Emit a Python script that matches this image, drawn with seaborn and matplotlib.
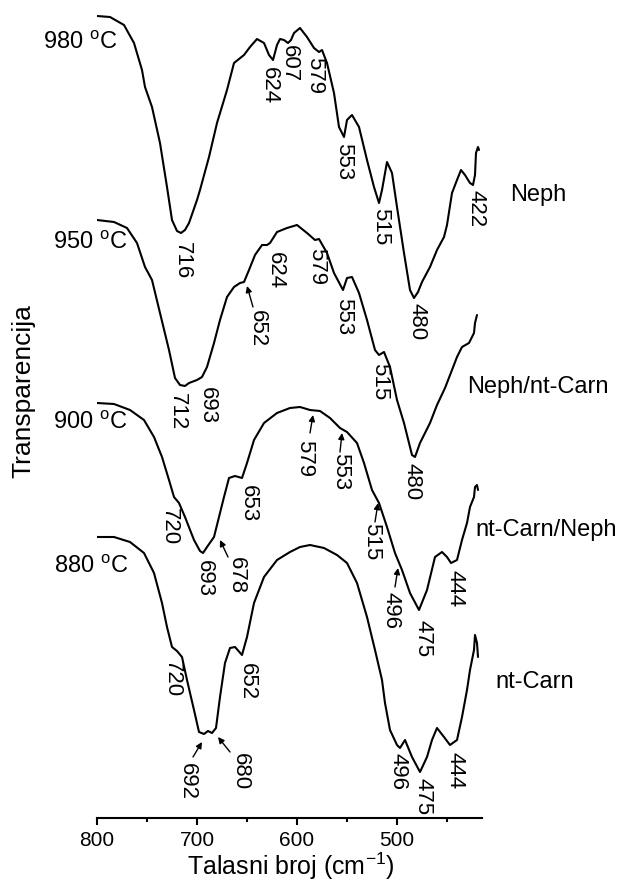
import numpy as np
import pandas as pd
import matplotlib
matplotlib.use('Agg')
import matplotlib.pyplot as plt
import seaborn as sns

# IR spectra, transparency in arbitrary units (stacked)
wn_980 = [800, 787, 773, 763, 755, 752, 745, 737, 730, 725, 720, 716, 712, 708, 700, 697,
          688, 680, 670, 663, 653, 647, 640, 633, 628, 624, 620, 617, 613, 609, 606, 603,
          597, 590, 583, 578, 575, 570, 563, 558, 553, 550, 545, 538, 530, 523, 518, 515,
          510, 505, 500, 493, 487, 483, 479, 475, 467, 460, 453, 450, 445, 440, 436, 432,
          427, 424, 422, 421, 419, 418]
tr_980 = [802, 801, 793, 775, 748, 731, 711, 675, 631, 598, 587, 585, 588, 595, 618, 628,
          661, 695, 728, 755, 763, 771, 779, 775, 763, 758, 773, 779, 778, 775, 778, 785,
          790, 781, 770, 766, 768, 755, 725, 691, 681, 698, 703, 691, 658, 631, 615, 628,
          656, 645, 611, 565, 528, 520, 526, 536, 551, 568, 581, 593, 625, 638, 648, 643,
          635, 633, 643, 665, 671, 668]

wn_950 = [800, 783, 770, 760, 752, 745, 737, 728, 722, 717, 712, 708, 700, 695, 690, 683,
          677, 670, 663, 657, 653, 648, 642, 635, 630, 627, 620, 610, 600, 590, 582, 578,
          570, 563, 554, 550, 545, 538, 530, 522, 518, 513, 507, 500, 493, 485, 482, 477,
          467, 460, 452, 445, 440, 435, 428, 423, 422, 420]
tr_950 = [598, 596, 590, 575, 551, 538, 505, 468, 440, 433, 432, 435, 438, 441, 451, 475,
          498, 521, 531, 535, 536, 548, 563, 573, 573, 575, 586, 590, 593, 585, 578, 579,
          565, 545, 528, 540, 541, 525, 498, 468, 463, 466, 451, 418, 395, 363, 361, 375,
          395, 413, 430, 448, 461, 471, 475, 485, 495, 503]

wn_900 = [800, 783, 767, 753, 743, 735, 728, 723, 718, 712, 703, 697, 694, 690, 683, 678,
          673, 668, 662, 655, 650, 643, 633, 620, 607, 597, 587, 577, 567, 557, 550, 540,
          533, 525, 518, 510, 502, 495, 487, 478, 470, 462, 455, 450, 446, 440, 435, 430,
          427, 423, 422, 420, 419]
tr_900 = [415, 414, 408, 398, 381, 361, 338, 321, 315, 301, 278, 267, 265, 271, 281, 301,
          321, 340, 342, 340, 355, 378, 395, 405, 410, 411, 408, 407, 400, 390, 386, 375,
          355, 328, 315, 291, 265, 248, 225, 208, 228, 261, 266, 261, 255, 258, 278, 295,
          311, 321, 331, 333, 328]

wn_880 = [800, 783, 767, 753, 743, 735, 730, 725, 720, 715, 710, 703, 698, 693, 689, 685,
          681, 677, 672, 667, 662, 655, 650, 643, 633, 620, 607, 597, 587, 573, 560, 550,
          540, 530, 522, 515, 512, 507, 500, 497, 492, 485, 477, 470, 465, 460, 453, 447,
          440, 435, 430, 427, 423, 422, 420, 419]
tr_880 = [281, 281, 276, 265, 245, 215, 191, 171, 167, 161, 138, 108, 86, 84, 87, 85,
          90, 121, 155, 170, 171, 163, 181, 215, 241, 258, 266, 271, 273, 270, 263, 255,
          235, 201, 168, 138, 115, 88, 73, 70, 78, 61, 46, 61, 78, 90, 81, 73,
          78, 101, 128, 148, 168, 183, 175, 161]

temps = ['980', '950', '900', '880']
phases = ['Neph', 'Neph/nt-Carn', 'nt-Carn/Neph', 'nt-Carn']

# peak labels: (wavenumber of label centre, transparency at label top, text)
peaks_980 = [(715, 576, '716'), (628, 751, '624'), (608, 773, '607'), (582, 761, '579'),
             (553, 675, '553'), (516, 610, '515'), (480, 515, '480'), (421, 628, '422')]
peaks_950 = [(720, 425, '712'), (690, 431, '693'), (640, 508, '652'), (622, 566, '624'),
             (580, 570, '579'), (553, 520, '553'), (517, 455, '515'), (485, 355, '480')]
peaks_900 = [(728, 310, '720'), (693, 258, '693'), (661, 261, '678'), (649, 333, '653'),
             (592, 378, '579'), (556, 365, '553'), (525, 295, '515'), (506, 226, '496'),
             (474, 198, '475'), (442, 248, '444')]
peaks_880 = [(725, 158, '720'), (650, 155, '652'), (710, 55, '692'), (657, 65, '680'),
             (499, 65, '496'), (474, 40, '475'), (442, 66, '444')]

# arrows: (tail wn, tail tr, head wn, head tr)
arrows = [(644, 511, 650, 532),
          (669, 261, 677, 278),
          (587, 385, 584, 403),
          (557, 366, 555, 385),
          (522, 296, 519, 315),
          (502, 231, 499, 250),
          (704, 61, 695, 76),
          (667, 66, 679, 81)]

sns.set_style('white')
plt.rcParams['font.family'] = ['Liberation Sans', 'DejaVu Sans']
plt.rcParams['mathtext.default'] = 'regular'
plt.rcParams['text.color'] = 'black'
plt.rcParams['axes.labelcolor'] = 'black'
plt.rcParams['xtick.color'] = 'black'

fig = plt.figure(figsize=(6.23, 8.82), dpi=100)
ax = fig.add_axes([97 / 623, 64 / 882, 385 / 623, 818 / 882])

for wn, tr in [(wn_980, tr_980), (wn_950, tr_950), (wn_900, tr_900), (wn_880, tr_880)]:
    df = pd.DataFrame({'wn': wn, 'tr': tr})
    sns.lineplot(data=df, x='wn', y='tr', ax=ax, color='black', lw=1.5,
                 sort=False, estimator=None, solid_joinstyle='round')

ax.set_xlim(800, 415)
ax.set_ylim(0, 818)

for peaks in [peaks_980, peaks_950, peaks_900, peaks_880]:
    for x, y, s in peaks:
        ax.text(x, y, s, rotation=270, ha='center', va='top', fontsize=16)

for x0, y0, x1, y1 in arrows:
    ax.annotate('', xy=(x1, y1), xytext=(x0, y0),
                arrowprops=dict(arrowstyle='-|>', color='black', lw=1.0,
                                mutation_scale=9, shrinkA=0, shrinkB=0))

temp_pos = [(43, 43), (53, 243), (53, 423), (54, 567)]
for (px, py), t in zip(temp_pos, temps):
    fig.text(px / 623, 1 - py / 882, t + ' $^{o}$C', ha='left', va='center', fontsize=17)

phase_pos = [(510, 195), (467, 387), (475, 530), (495, 682)]
for (px, py), p in zip(phase_pos, phases):
    fig.text(px / 623, 1 - py / 882, p, ha='left', va='center', fontsize=17)

for side in ['left', 'top', 'right']:
    ax.spines[side].set_visible(False)
ax.spines['bottom'].set_linewidth(1.5)
ax.spines['bottom'].set_color('black')
ax.set_yticks([])
ax.set_xticks([800, 700, 600, 500])
ax.set_xticks([750, 650, 550, 450], minor=True)
ax.tick_params(axis='x', which='major', direction='out', length=5, width=1.5,
               labelsize=15, pad=4, bottom=True, colors='black')
ax.tick_params(axis='x', which='minor', direction='out', length=3, width=1.5, bottom=True)
ax.set_xlabel('')
ax.set_ylabel('')
fig.text(291 / 623, 1 - 866 / 882, 'Talasni broj (cm$^{-1}$)', ha='center', va='center',
         fontsize=18)
fig.text(23 / 623, 1 - 391 / 882, 'Transparencija', rotation=90, ha='center',
         va='center', fontsize=19)

fig.savefig('out.png', dpi=100)
